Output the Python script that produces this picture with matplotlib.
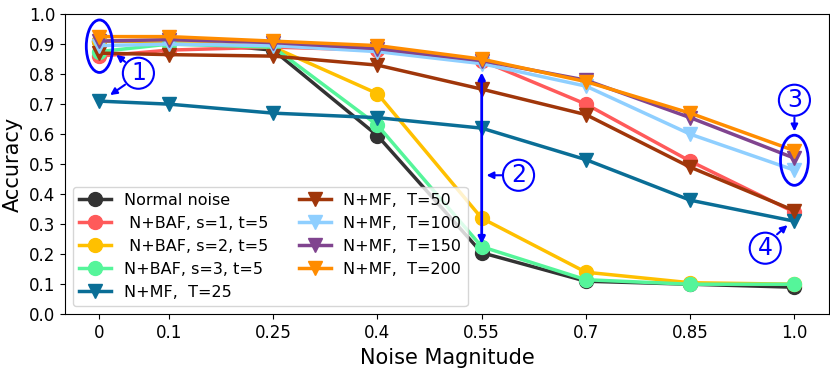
import matplotlib.pyplot as plt
from matplotlib.patches import Ellipse

noise = [0, 0.1, 0.25, 0.4, 0.55, 0.7, 0.85, 1.0]
tick_labels = ['0', '0.1', '0.25', '0.4', '0.55', '0.7', '0.85', '1.0']

normal = [0.91, 0.91, 0.88, 0.595, 0.205, 0.11, 0.10, 0.09]
baf_s1 = [0.86, 0.88, 0.89, 0.88, 0.845, 0.70, 0.51, 0.34]
baf_s2 = [0.91, 0.91, 0.89, 0.735, 0.32, 0.14, 0.105, 0.10]
baf_s3 = [0.875, 0.90, 0.89, 0.63, 0.225, 0.115, 0.10, 0.10]
mf_25 = [0.71, 0.70, 0.67, 0.655, 0.62, 0.515, 0.38, 0.31]
mf_50 = [0.87, 0.865, 0.86, 0.83, 0.75, 0.665, 0.49, 0.345]
mf_100 = [0.895, 0.90, 0.895, 0.875, 0.835, 0.76, 0.60, 0.48]
mf_150 = [0.91, 0.915, 0.905, 0.885, 0.845, 0.78, 0.655, 0.52]
mf_200 = [0.925, 0.925, 0.91, 0.895, 0.85, 0.775, 0.67, 0.545]

fig, ax = plt.subplots(figsize=(8.3, 3.71), dpi=100)

ax.plot(noise, normal, marker='o', color='#333333', lw=2.5, ms=10, label='Normal noise')
ax.plot(noise, baf_s1, marker='o', color='#ff5a5a', lw=2.5, ms=10, label=' N+BAF, s=1, t=5')
ax.plot(noise, baf_s2, marker='o', color='#ffc000', lw=2.5, ms=10, label=' N+BAF, s=2, t=5')
ax.plot(noise, baf_s3, marker='o', color='#55f59a', lw=2.5, ms=10, label='N+BAF, s=3, t=5')
ax.plot(noise, mf_25, marker='v', color='#0a6e96', lw=2.5, ms=10, label='N+MF,  T=25')
ax.plot(noise, mf_50, marker='v', color='#a0360a', lw=2.5, ms=10, label='N+MF,  T=50')
ax.plot(noise, mf_100, marker='v', color='#8fcfff', lw=2.5, ms=10, label='N+MF,  T=100')
ax.plot(noise, mf_150, marker='v', color='#80448f', lw=2.5, ms=10, label='N+MF,  T=150')
ax.plot(noise, mf_200, marker='v', color='#ff8c00', lw=2.5, ms=10, label='N+MF,  T=200')

ax.set_xlim(-0.05, 1.05)
ax.set_ylim(0, 1.0)
ax.set_xticks(noise)
ax.set_xticklabels(tick_labels)
ax.set_yticks([i / 10 for i in range(11)])
ax.tick_params(labelsize=12)
ax.set_xlabel('Noise Magnitude', fontsize=15)
ax.set_ylabel('Accuracy', fontsize=15)

# annotations
ax.add_patch(Ellipse((0.0, 0.893), 0.038, 0.175, fill=False, ec='blue', lw=2, zorder=5))
ax.add_patch(Ellipse((1.0, 0.513), 0.04, 0.167, fill=False, ec='blue', lw=2, zorder=5))
circ = dict(boxstyle='circle,pad=0.15', fc='white', ec='blue', lw=1.5)
arr = dict(arrowstyle='-|>', color='blue', lw=1.5, mutation_scale=10)
ax.text(0.056, 0.803, '1', color='blue', fontsize=17, ha='center', va='center', bbox=circ, zorder=6)
ax.annotate('', xy=(0.021, 0.87), xytext=(0.04, 0.835), arrowprops=arr)
ax.annotate('', xy=(0.012, 0.725), xytext=(0.04, 0.77), arrowprops=arr)
ax.annotate('', xy=(0.55, 0.815), xytext=(0.55, 0.225),
            arrowprops=dict(arrowstyle='<|-|>', color='blue', lw=2, mutation_scale=10))
ax.text(0.603, 0.463, '2', color='blue', fontsize=17, ha='center', va='center', bbox=circ, zorder=6)
ax.annotate('', xy=(0.553, 0.463), xytext=(0.585, 0.463), arrowprops=arr)
ax.text(1.0, 0.713, '3', color='blue', fontsize=17, ha='center', va='center', bbox=circ, zorder=6)
ax.annotate('', xy=(1.0, 0.6), xytext=(1.0, 0.665), arrowprops=arr)
ax.text(0.958, 0.22, '4', color='blue', fontsize=17, ha='center', va='center', bbox=circ, zorder=6)
ax.annotate('', xy=(0.993, 0.303), xytext=(0.972, 0.26), arrowprops=arr)

ax.legend(ncol=2, loc='lower left', fontsize=11.5, handlelength=2, columnspacing=1.9,
          labelspacing=0.5)

plt.subplots_adjust(left=0.078, right=0.999, top=0.962, bottom=0.153)
plt.savefig('out.png')
